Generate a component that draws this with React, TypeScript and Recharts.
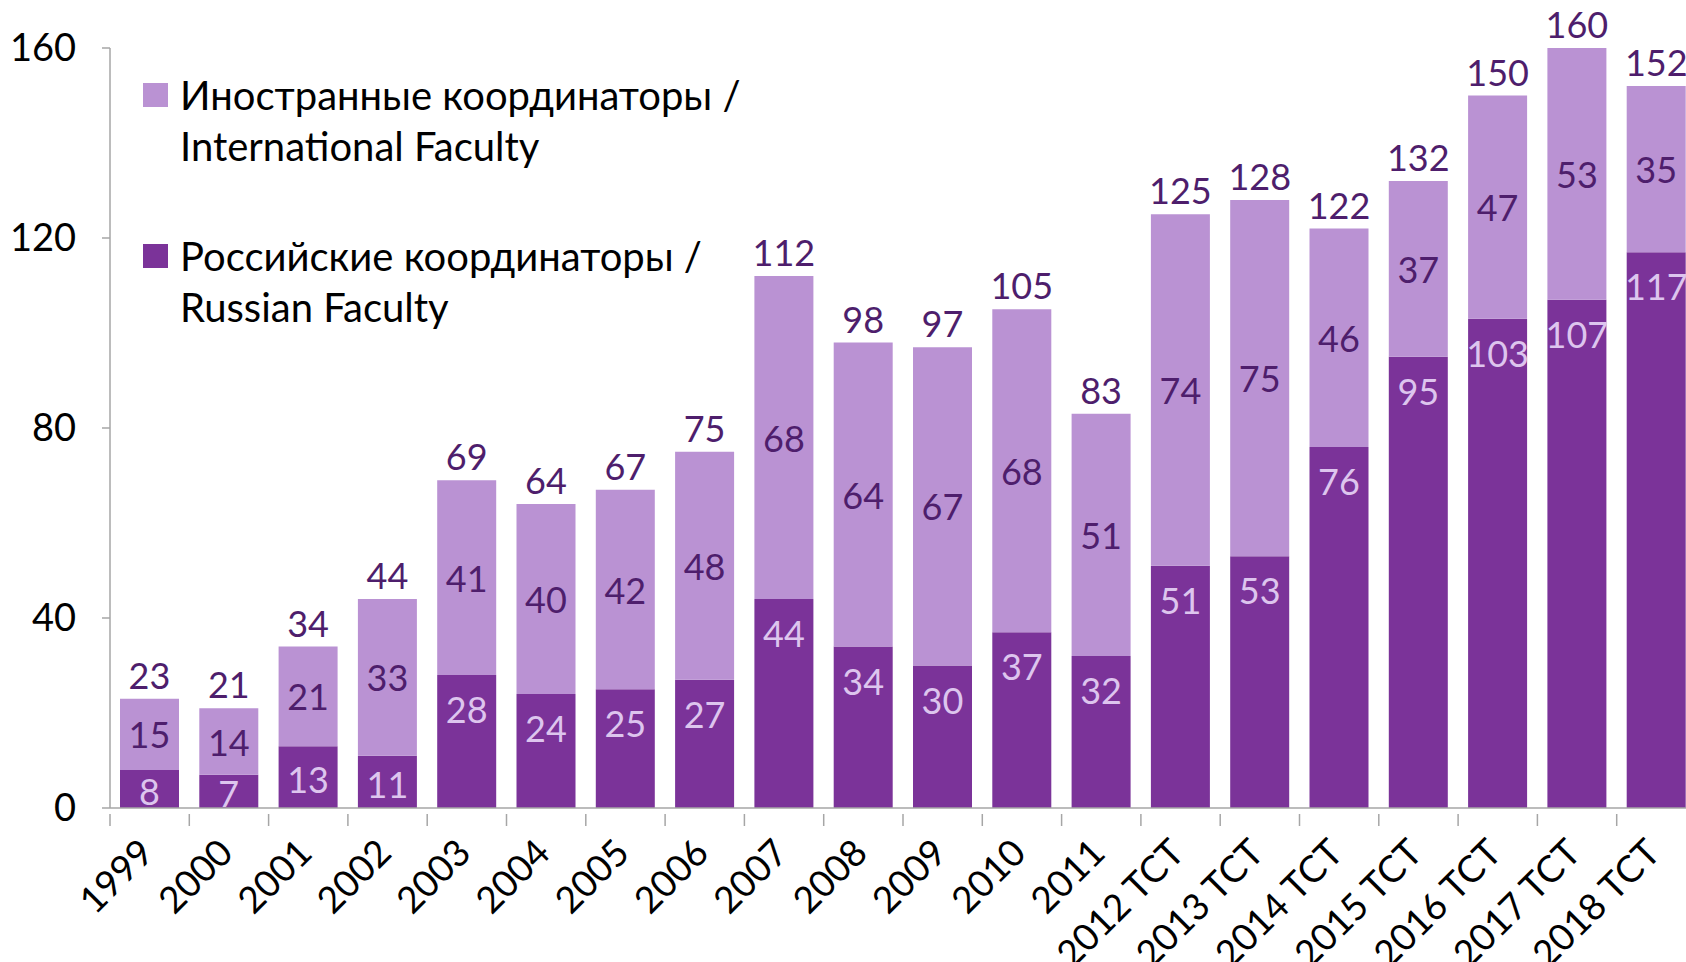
import React from "react";
import { BarChart, Bar, XAxis, YAxis, LabelList, Legend } from "recharts";

const categories = ["1999","2000","2001","2002","2003","2004","2005","2006","2007","2008","2009","2010","2011","2012 TCT","2013 TCT","2014 TCT","2015 TCT","2016 TCT","2017 TCT","2018 TCT"];
const russian = [8,7,13,11,28,24,25,27,44,34,30,37,32,51,53,76,95,103,107,117];
const international = [15,14,21,33,41,40,42,48,68,64,67,68,51,74,75,46,37,47,53,35];
const totals = [23,21,34,44,69,64,67,75,112,98,97,105,83,125,128,122,132,150,160,152];
const yTicks = [0, 40, 80, 120, 160];
const seriesNames = {
  international: ["Иностранные координаторы /", "International Faculty"],
  russian: ["Российские координаторы /", "Russian Faculty"],
};

const data = categories.map((c, i) => ({
  year: c,
  russian: russian[i],
  international: international[i],
  total: totals[i],
}));

const FONT = "Lato, 'Noto Sans', sans-serif";
const DARK = "#7B3399";
const LIGHT = "#BA92D3";
const TEXT_DARK = "#4E1E6C";
const TEXT_LIGHT = "#DDC5EE";
const AXIS = "#A6A6A6";

const CHART_W = 1700;
const CHART_H = 962;
const M_TOP = 48;
const M_RIGHT = 4;
const Y_W = 110;
const X_H = 154;
const BAND = (CHART_W - M_RIGHT - Y_W) / categories.length;

const XTick = (props: any) => {
  const { x, y, payload } = props;
  const lx = x - BAND / 2;
  const tx = x + 6;
  const ty = y + 39;
  return (
    <g>
      <line x1={lx} y1={y - 2} x2={lx} y2={y + 10} stroke={AXIS} strokeWidth={1.5} />
      <text
        x={tx}
        y={ty}
        textAnchor="end"
        fill="#000"
        fontFamily={FONT}
        fontSize={37}
        transform={`rotate(-45, ${tx}, ${ty})`}
      >
        {payload.value}
      </text>
    </g>
  );
};

const RussianLabel = (props: any) => {
  const { x, y, width, height, value } = props;
  const cy = Math.min(y + 34, y + height / 2 + 2);
  return (
    <text x={x + width / 2} y={cy} textAnchor="middle" dominantBaseline="central" fill={TEXT_LIGHT} fontFamily={FONT} fontSize={36}>
      {value}
    </text>
  );
};

const IntlLabel = (props: any) => {
  const { x, y, width, height, value } = props;
  return (
    <text x={x + width / 2} y={y + height / 2} textAnchor="middle" dominantBaseline="central" fill={TEXT_DARK} fontFamily={FONT} fontSize={36}>
      {value}
    </text>
  );
};

const TotalLabel = (props: any) => {
  const { x, y, width, value } = props;
  return (
    <text x={x + width / 2} y={y - 24} textAnchor="middle" dominantBaseline="central" fill={TEXT_DARK} fontFamily={FONT} fontSize={36}>
      {value}
    </text>
  );
};

const LegendContent = () => {
  const items = [
    { color: LIGHT, lines: seriesNames.international, top: 0 },
    { color: DARK, lines: seriesNames.russian, top: 161 },
  ];
  return (
    <div style={{ position: "relative", width: 600, height: 320, fontFamily: FONT }}>
      {items.map((it, i) => (
        <div key={i} style={{ position: "absolute", left: 0, top: it.top }}>
          <div style={{ position: "absolute", left: 0, top: 13, width: 25, height: 24, background: it.color }} />
          <div style={{ position: "absolute", left: 37, top: 0, fontSize: 40, lineHeight: "51px", color: "#000", whiteSpace: "nowrap" }}>
            {it.lines[0]}
            <br />
            {it.lines[1]}
          </div>
        </div>
      ))}
    </div>
  );
};

export default function App() {
  return (
    <div style={{ position: "fixed", left: 0, top: 0, width: 1686, height: 962, overflow: "hidden", background: "#fff" }}>
      <BarChart width={CHART_W} height={CHART_H} data={data} margin={{ top: M_TOP, right: M_RIGHT, left: 0, bottom: 0 }} barSize={59}>
        <XAxis
          dataKey="year"
          height={X_H}
          interval={0}
          tickLine={false}
          axisLine={{ stroke: AXIS, strokeWidth: 1.5 }}
          tick={<XTick />}
        />
        <YAxis
          width={Y_W}
          domain={[0, 160]}
          ticks={yTicks}
          interval={0}
          tickSize={8}
          tickMargin={26}
          axisLine={{ stroke: AXIS, strokeWidth: 1.5 }}
          tickLine={{ stroke: AXIS, strokeWidth: 1.5 }}
          tick={{ fill: "#000", fontFamily: FONT, fontSize: 38 }}
        />
        <Legend
          layout="horizontal"
          verticalAlign="middle"
          align="center"
          wrapperStyle={{ position: "absolute", left: 143, top: 70, width: 600, height: 320 }}
          content={<LegendContent />}
        />
        <Bar dataKey="russian" stackId="a" fill={DARK} isAnimationActive={false}>
          <LabelList dataKey="russian" content={<RussianLabel />} />
        </Bar>
        <Bar dataKey="international" stackId="a" fill={LIGHT} isAnimationActive={false}>
          <LabelList dataKey="international" content={<IntlLabel />} />
          <LabelList dataKey="total" content={<TotalLabel />} />
        </Bar>
      </BarChart>
    </div>
  );
}
